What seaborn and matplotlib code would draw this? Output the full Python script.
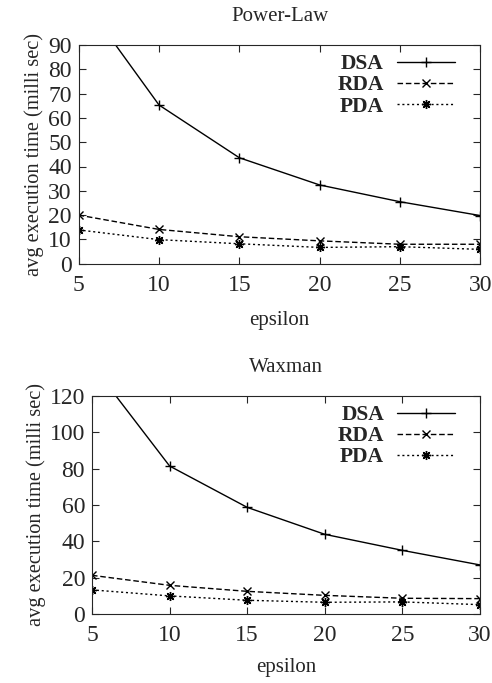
import matplotlib
matplotlib.use('Agg')
import matplotlib.pyplot as plt
import seaborn as sns
import pandas as pd

# Data
epsilon = [5, 10, 15, 20, 25, 30]

pl_dsa = [111.0, 65.3, 43.6, 32.4, 25.5, 19.8]
pl_rda = [20.0, 14.1, 11.1, 9.4, 8.0, 8.0]
pl_pda = [13.9, 9.9, 8.2, 6.7, 7.0, 5.9]

wx_dsa = [137.0, 81.4, 58.7, 43.9, 35.1, 27.1]
wx_rda = [21.4, 15.9, 12.6, 10.4, 8.8, 8.6]
wx_pda = [13.4, 10.1, 7.7, 6.6, 6.8, 5.3]

series_names = ['DSA', 'RDA', 'PDA']

sns.set_style('ticks')
plt.rcParams['font.family'] = ['Liberation Serif', 'DejaVu Serif']

styles = {
    'DSA': dict(linestyle='-', marker='+', markersize=7),
    'RDA': dict(linestyle=(0, (4, 2)), marker='x', markersize=6),
    'PDA': dict(linestyle=(0, (1.5, 2)), marker=(8, 2, 0), markersize=6.5),
}

fig = plt.figure(figsize=(4.92, 6.83), dpi=100)
W, H = 492, 683
ax1 = fig.add_axes([78.7 / W, 1 - 263.7 / H, (480.3 - 78.7) / W, (263.7 - 45) / H])
ax2 = fig.add_axes([92 / W, 1 - 614.3 / H, (480 - 92) / W, (614.3 - 395.7) / H])


def draw(ax, vals, title, ymax, ystep, xlabpad):
    df = pd.DataFrame({'epsilon': epsilon * 3,
                       'time': vals[0] + vals[1] + vals[2],
                       'algo': [n for n in series_names for _ in epsilon]})
    for name in series_names:
        sub = df[df['algo'] == name]
        sns.lineplot(data=sub, x='epsilon', y='time', ax=ax, color='black',
                     linewidth=1.0, markeredgewidth=1.0,
                     markeredgecolor='black', markerfacecolor='black',
                     label=name, **styles[name])
    ax.set_xlim(5, 30)
    ax.set_ylim(0, ymax)
    ax.set_xticks(epsilon)
    ax.set_yticks(range(0, ymax + 1, ystep))
    ax.tick_params(direction='in', top=True, right=True, length=5, width=0.8,
                   labelsize=17)
    ax.tick_params(axis='x', pad=8)
    ax.tick_params(axis='y', pad=5)
    for s in ax.spines.values():
        s.set_linewidth(0.8)
    ax.set_title(title, fontsize=15, pad=17)
    ax.set_xlabel('epsilon', fontsize=15, labelpad=xlabpad)
    ax.set_ylabel('avg execution time (milli sec)', fontsize=14.7, labelpad=3)
    # legend box placed so the rows line up with the reference
    leg = ax.legend(loc='upper right', bbox_to_anchor=(0.958, 0.997),
                    frameon=False, markerfirst=False,
                    prop={'weight': 'bold', 'size': 15.5}, handlelength=2.7,
                    labelspacing=0.05, borderaxespad=0.0, handletextpad=0.6)
    return leg


draw(ax1, [pl_dsa, pl_rda, pl_pda], 'Power-Law', 90, 10, 11)
draw(ax2, [wx_dsa, wx_rda, wx_pda], 'Waxman', 120, 20, 8)

fig.savefig('out.png', dpi=100)
